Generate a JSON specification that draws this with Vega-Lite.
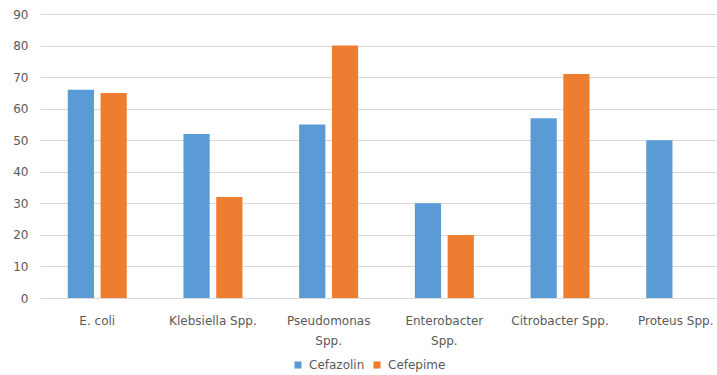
{
  "$schema": "https://vega.github.io/schema/vega-lite/v6.json",
  "width": 693,
  "height": 284,
  "autosize": {"type": "none"},
  "padding": {"left": 40, "top": 14, "right": -16, "bottom": 77},
  "background": "white",
  "config": {"view": {"stroke": null}, "font": "DejaVu Sans"},
  "data": {
    "values": [
      {"org": "E. coli", "drug": "Cefazolin", "value": 66},
      {"org": "E. coli", "drug": "Cefepime", "value": 65},
      {"org": "Klebsiella Spp.", "drug": "Cefazolin", "value": 52},
      {"org": "Klebsiella Spp.", "drug": "Cefepime", "value": 32},
      {"org": "Pseudomonas Spp.", "drug": "Cefazolin", "value": 55},
      {"org": "Pseudomonas Spp.", "drug": "Cefepime", "value": 80},
      {"org": "Enterobacter Spp.", "drug": "Cefazolin", "value": 30},
      {"org": "Enterobacter Spp.", "drug": "Cefepime", "value": 20},
      {"org": "Citrobacter Spp.", "drug": "Cefazolin", "value": 57},
      {"org": "Citrobacter Spp.", "drug": "Cefepime", "value": 71},
      {"org": "Proteus Spp.", "drug": "Cefazolin", "value": 50}
    ]
  },
  "mark": {"type": "bar"},
  "encoding": {
    "x": {
      "field": "org",
      "type": "nominal",
      "sort": null,
      "scale": {"paddingInner": 0.49, "paddingOuter": 0.24},
      "axis": {
        "title": null,
        "labelAngle": 0,
        "domain": false,
        "ticks": false,
        "labelPadding": 17,
        "labelFontSize": 12,
        "labelColor": "#595959",
        "labelLineHeight": 20,
        "labelExpr": "datum.label == 'Pseudomonas Spp.' ? ['Pseudomonas', 'Spp.'] : datum.label == 'Enterobacter Spp.' ? ['Enterobacter', 'Spp.'] : datum.label"
      }
    },
    "xOffset": {"field": "drug", "type": "nominal", "scale": {"paddingInner": 0.2}},
    "y": {
      "field": "value",
      "type": "quantitative",
      "scale": {"domain": [0, 90]},
      "axis": {
        "title": null,
        "values": [0, 10, 20, 30, 40, 50, 60, 70, 80, 90],
        "domain": false,
        "ticks": false,
        "labelPadding": 12,
        "labelFontSize": 12,
        "labelColor": "#595959",
        "gridColor": "#d9d9d9",
        "gridWidth": 1
      }
    },
    "color": {
      "field": "drug",
      "type": "nominal",
      "scale": {"domain": ["Cefazolin", "Cefepime"], "range": ["#5B9BD5", "#ED7D31"]},
      "legend": {
        "title": null,
        "orient": "none",
        "direction": "horizontal",
        "legendX": 252,
        "legendY": 345,
        "symbolType": "square",
        "symbolSize": 50,
        "symbolStrokeWidth": 0,
        "labelFontSize": 12,
        "labelColor": "#595959",
        "columnPadding": 6,
        "labelOffset": 5
      }
    }
  }
}
